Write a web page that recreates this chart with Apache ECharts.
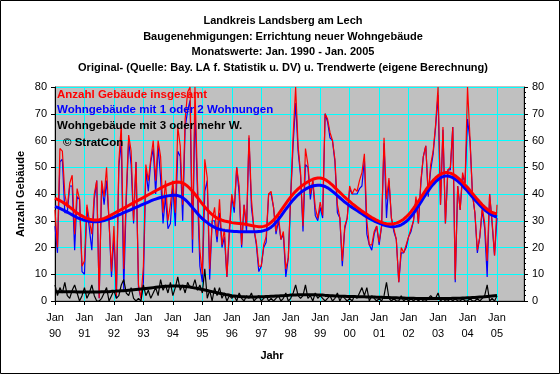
<!DOCTYPE html>
<html>
<head>
<meta charset="utf-8">
<script src="https://cdn.jsdelivr.net/npm/echarts@6/dist/echarts.min.js"></script>
<style>
html,body{margin:0;padding:0;background:#fff;}
#chart{width:560px;height:374px;}
</style>
</head>
<body>
<div id="chart"></div>
<script>
// Tick labels (years, Jan of each year)
const yearLabels = ['90','91','92','93','94','95','96','97','98','99','00','01','02','03','04','05'];

// Monthly values Jan 1990 - Jan 2005 (181 months)
const total = [
34, 20, 57, 56, 40, 35, 44, 47, 25, 42, 38, 13,
15, 36, 30, 25, 40, 45, 1, 45, 39, 50, 30, 11,
28, 2, 52, 66, 12, 40, 62, 56, 30, 52, 6, 1,
13, 51, 45, 53, 60, 45, 60, 54, 33, 45, 30, 36,
45, 33, 65, 58, 36, 68, 78, 80, 23, 80, 45, 19,
10, 53, 46, 12, 30, 35, 24, 38, 21, 27, 9, 27,
40, 35, 50, 43, 21, 36, 28, 62, 38, 27, 22, 13,
13, 21, 24, 40, 41, 35, 26, 32, 23, 26, 12, 16,
40, 62, 80, 58, 48, 28, 57, 51, 40, 45, 35, 31,
37, 32, 70, 68, 63, 60, 53, 36, 31, 15, 28, 31,
43, 40, 42, 41, 45, 48, 55, 30, 21, 21, 26, 28,
22, 28, 61, 38, 46, 31, 27, 23, 7, 20, 18, 21,
24, 27, 30, 39, 29, 45, 54, 58, 40, 51, 56, 66,
80, 36, 65, 29, 49, 50, 65, 8, 43, 34, 48, 44,
80, 61, 40, 33, 19, 24, 35, 29, 15, 40, 30, 17,
36];

const oneTwo = [
28, 18, 52, 53, 33, 33, 43, 43, 19, 39, 38, 11,
10, 35, 27, 19, 38, 45, 1, 44, 36, 45, 30, 9,
24, 1, 50, 60, 4, 37, 60, 51, 29, 52, 5, 1,
7, 49, 41, 52, 57, 40, 58, 46, 29, 39, 27, 29,
43, 28, 56, 54, 30, 65, 71, 75, 18, 72, 41, 13,
7, 41, 45, 8, 30, 30, 22, 33, 20, 24, 9, 25,
39, 33, 50, 40, 20, 36, 26, 61, 35, 27, 21, 11,
13, 20, 22, 40, 40, 35, 25, 30, 23, 25, 9, 16,
39, 59, 74, 56, 47, 26, 51, 50, 38, 45, 32, 30,
35, 31, 70, 67, 61, 60, 52, 33, 31, 13, 27, 31,
42, 40, 40, 40, 42, 43, 53, 25, 21, 19, 25, 28,
21, 28, 59, 31, 45, 31, 26, 23, 7, 18, 18, 20,
24, 26, 30, 38, 29, 44, 54, 58, 39, 49, 55, 65,
77, 36, 64, 29, 49, 49, 65, 7, 43, 34, 47, 44,
68, 60, 40, 33, 18, 24, 34, 27, 9, 40, 29, 17,
31];

const threePlus = [
6, 2, 5, 3, 7, 2, 1, 4, 6, 3, 0, 2,
5, 1, 3, 6, 2, 0, 0, 1, 3, 5, 0, 2,
4, 1, 2, 6, 8, 3, 2, 5, 1, 0, 1, 0,
6, 2, 4, 1, 3, 5, 2, 8, 4, 6, 3, 7,
2, 5, 9, 4, 6, 3, 7, 5, 5, 8, 4, 6,
3, 12, 1, 4, 0, 5, 2, 5, 1, 3, 0, 2,
1, 2, 0, 3, 1, 0, 2, 1, 3, 0, 1, 2,
0, 1, 2, 0, 1, 0, 1, 2, 0, 1, 3, 0,
1, 3, 6, 2, 1, 2, 6, 1, 2, 0, 3, 1,
2, 1, 0, 1, 2, 0, 1, 3, 0, 2, 1, 0,
1, 0, 2, 1, 3, 5, 2, 5, 0, 2, 1, 0,
1, 0, 2, 7, 1, 0, 1, 0, 0, 2, 0, 1,
0, 1, 0, 1, 0, 1, 0, 0, 1, 2, 1, 1,
3, 0, 1, 0, 0, 1, 0, 1, 0, 0, 1, 0,
0, 1, 0, 0, 1, 0, 1, 2, 6, 0, 1, 0,
2];

// Trend values
const trendTotal = [
38.4, 38.0, 37.5, 37.0, 36.4, 35.8, 35.1, 34.4, 33.6, 32.9, 32.3, 31.8,
31.3, 30.9, 30.6, 30.4, 30.3, 30.3, 30.4, 30.6, 30.9, 31.3, 31.7, 32.2,
32.7, 33.2, 33.7, 34.2, 34.7, 35.2, 35.7, 36.2, 36.7, 37.2, 37.7, 38.2,
38.7, 39.2, 39.7, 40.2, 40.7, 41.2, 41.7, 42.2, 42.7, 43.1, 43.5, 43.9,
44.2, 44.4, 44.5, 44.4, 44.1, 43.6, 42.9, 42.0, 41.0, 39.9, 38.7, 37.5,
36.3, 35.2, 34.1, 33.1, 32.3, 31.6, 31.0, 30.6, 30.2, 29.9, 29.7, 29.5,
29.3, 29.2, 29.1, 29.0, 28.9, 28.8, 28.6, 28.4, 28.2, 28.0, 27.9, 27.8,
27.8, 27.9, 28.2, 28.7, 29.4, 30.3, 31.3, 32.5, 33.8, 35.1, 36.4, 37.7,
38.9, 40.0, 41.0, 41.9, 42.7, 43.4, 44.0, 44.6, 45.1, 45.5, 45.8, 46.0,
46.0, 45.8, 45.4, 44.8, 44.1, 43.3, 42.4, 41.5, 40.6, 39.7, 38.8, 38.0,
37.2, 36.4, 35.7, 35.0, 34.3, 33.6, 33.0, 32.4, 31.8, 31.2, 30.7, 30.2,
29.8, 29.4, 29.1, 28.9, 28.8, 28.8, 28.9, 29.1, 29.5, 30.0, 30.6, 31.4,
32.3, 33.4, 34.6, 35.9, 37.3, 38.7, 40.1, 41.5, 42.8, 44.0, 45.1, 46.0,
46.8, 47.4, 47.8, 48.0, 48.0, 47.8, 47.4, 46.8, 46.1, 45.3, 44.4, 43.4,
42.4, 41.3, 40.2, 39.1, 38.0, 37.0, 36.0, 35.1, 34.3, 33.6, 33.1, 32.8,
32.6];

const trendOneTwo = [
35.3, 35.0, 34.6, 34.2, 33.7, 33.2, 32.7, 32.2, 31.7, 31.2, 30.8, 30.5,
30.2, 30.0, 29.8, 29.7, 29.6, 29.6, 29.7, 29.9, 30.1, 30.4, 30.7, 31.0,
31.4, 31.8, 32.2, 32.6, 33.0, 33.4, 33.8, 34.2, 34.6, 35.0, 35.4, 35.8,
36.2, 36.6, 37.0, 37.4, 37.8, 38.1, 38.4, 38.7, 38.9, 39.1, 39.3, 39.4,
39.5, 39.5, 39.4, 39.1, 38.6, 37.9, 37.0, 36.0, 34.9, 33.8, 32.7, 31.7,
30.8, 30.0, 29.3, 28.6, 28.0, 27.5, 27.1, 26.8, 26.6, 26.4, 26.3, 26.2,
26.1, 26.0, 26.0, 25.9, 25.9, 25.9, 25.9, 25.9, 25.9, 25.9, 25.9, 26.0,
26.1, 26.3, 26.6, 27.0, 27.6, 28.4, 29.4, 30.5, 31.7, 33.0, 34.3, 35.5,
36.7, 37.8, 38.8, 39.7, 40.5, 41.2, 41.8, 42.3, 42.7, 43.0, 43.2, 43.3,
43.3, 43.1, 42.8, 42.3, 41.7, 41.0, 40.2, 39.4, 38.6, 37.8, 37.0, 36.3,
35.6, 35.0, 34.4, 33.8, 33.2, 32.6, 32.0, 31.4, 30.9, 30.4, 29.9, 29.5,
29.1, 28.7, 28.4, 28.1, 27.9, 27.8, 27.8, 27.9, 28.1, 28.5, 29.0, 29.7,
30.5, 31.6, 32.8, 34.1, 35.5, 36.9, 38.4, 39.8, 41.2, 42.5, 43.6, 44.6,
45.4, 46.1, 46.5, 46.7, 46.7, 46.5, 46.1, 45.5, 44.8, 44.0, 43.1, 42.1,
41.1, 40.0, 38.9, 37.8, 36.8, 35.8, 34.9, 34.0, 33.3, 32.6, 32.1, 31.7,
31.4];

const trendThreePlus = [
3.5, 3.5, 3.5, 3.5, 3.5, 3.5, 3.5, 3.5, 3.5, 3.4, 3.4, 3.4,
3.4, 3.4, 3.4, 3.4, 3.4, 3.4, 3.4, 3.5, 3.5, 3.5, 3.5, 3.6,
3.6, 3.7, 3.7, 3.8, 3.8, 3.9, 4.0, 4.1, 4.2, 4.3, 4.4, 4.5,
4.6, 4.7, 4.8, 4.9, 5.0, 5.1, 5.2, 5.3, 5.4, 5.5, 5.5, 5.6,
5.6, 5.6, 5.6, 5.5, 5.5, 5.4, 5.3, 5.2, 5.0, 4.9, 4.7, 4.5,
4.3, 4.1, 3.9, 3.7, 3.5, 3.3, 3.1, 2.9, 2.7, 2.5, 2.3, 2.2,
2.0, 1.9, 1.8, 1.7, 1.6, 1.6, 1.5, 1.5, 1.5, 1.5, 1.5, 1.6,
1.6, 1.6, 1.7, 1.7, 1.8, 1.8, 1.9, 1.9, 2.0, 2.0, 2.1, 2.1,
2.2, 2.2, 2.2, 2.3, 2.3, 2.3, 2.3, 2.3, 2.3, 2.3, 2.3, 2.2,
2.2, 2.2, 2.1, 2.1, 2.0, 2.0, 1.9, 1.9, 1.8, 1.8, 1.8, 1.7,
1.7, 1.7, 1.7, 1.6, 1.6, 1.6, 1.6, 1.5, 1.5, 1.5, 1.5, 1.4,
1.4, 1.4, 1.3, 1.3, 1.3, 1.2, 1.2, 1.2, 1.1, 1.1, 1.1, 1.0,
1.0, 1.0, 1.0, 0.9, 0.9, 0.9, 0.9, 0.9, 0.9, 0.9, 0.9, 0.9,
0.9, 0.9, 0.9, 0.9, 0.9, 0.9, 1.0, 1.0, 1.0, 1.0, 1.1, 1.1,
1.2, 1.2, 1.3, 1.3, 1.4, 1.5, 1.5, 1.6, 1.7, 1.8, 1.9, 2.0,
2.1];

const titleLines = [
  'Landkreis Landsberg am Lech',
  'Baugenehmigungen: Errichtung neuer Wohngebäude',
  'Monatswerte: Jan. 1990 - Jan. 2005',
  'Original- (Quelle: Bay. LA f. Statistik u. DV) u. Trendwerte (eigene Berechnung)'
];
const seriesNames = ['Anzahl Gebäude insgesamt', 'Wohngebäude mit 1 oder 2 Wohnungen', 'Wohngebäude mit 3 oder mehr W.'];
const seriesColors = ['#ff0000', '#0000ff', '#000000'];

// category axis: 16 years of months (axis extends one year past the data)
const months = [];
for (let i = 0; i < yearLabels.length * 12; i++) {
  months.push(i % 12 === 0 ? 'Jan\n' + yearLabels[i / 12] : '');
}

const FONT = '"Liberation Sans", Arial, sans-serif';
const chart = echarts.init(document.getElementById('chart'), null, {renderer: 'canvas'});

function rawLine(name, data, color, z) {
  return {name: name, type: 'line', data: data, symbol: 'none', showSymbol: false,
    lineStyle: {color: color, width: 1.2}, itemStyle: {color: color}, silent: true, z: z};
}
function trendLine(name, data, color, z) {
  return {name: name, type: 'line', data: data, symbol: 'none', showSymbol: false,
    lineStyle: {color: color, width: 3}, itemStyle: {color: color}, silent: true, z: z};
}

const graphics = [
  {type: 'rect', shape: {x: 0.5, y: 0.5, width: 559, height: 373},
   style: {fill: 'none', stroke: '#000', lineWidth: 1}, silent: true, z: 100}
];
titleLines.forEach(function (t, k) {
  graphics.push({type: 'text', x: 283, y: 21 + k * 15.5, z: 100,
    style: {text: t, textAlign: 'center', textVerticalAlign: 'middle',
      font: 'bold 11px ' + FONT, fill: '#000'}});
});
seriesNames.forEach(function (t, k) {
  graphics.push({type: 'text', x: 57, y: 94.5 + k * 15.5, z: 100,
    style: {text: t, textAlign: 'left', textVerticalAlign: 'middle',
      font: 'bold 11.5px ' + FONT, fill: seriesColors[k]}});
});
graphics.push({type: 'text', x: 63, y: 143, z: 100,
  style: {text: '© StratCon', textAlign: 'left', textVerticalAlign: 'middle',
    font: 'bold 11.5px ' + FONT, fill: '#000'}});
graphics.push({type: 'text', x: 272, y: 356, z: 100,
  style: {text: 'Jahr', textAlign: 'center', textVerticalAlign: 'middle',
    font: 'bold 11px ' + FONT, fill: '#000'}});
graphics.push({type: 'text', x: 21, y: 194, rotation: Math.PI / 2, z: 100,
  style: {text: 'Anzahl Gebäude', textAlign: 'center', textVerticalAlign: 'middle',
    font: 'bold 11px ' + FONT, fill: '#000'}});

const everyYear = function (i) { return i % 12 === 0; };

const option = {
  animation: false,
  backgroundColor: '#ffffff',
  grid: {left: 55, top: 87, width: 469, height: 214, show: true,
    backgroundColor: '#c0c0c0', borderColor: '#808080', borderWidth: 1},
  xAxis: {
    type: 'category', data: months, boundaryGap: false,
    axisLine: {show: true, lineStyle: {color: '#000', width: 1}},
    axisTick: {show: true, interval: everyYear, length: 4, lineStyle: {color: '#000'}},
    axisLabel: {interval: everyYear, color: '#000', fontSize: 11, lineHeight: 16,
      margin: 9, fontFamily: FONT},
    splitLine: {show: true, interval: everyYear, lineStyle: {color: '#00ffff', width: 1}}
  },
  yAxis: [
    {type: 'value', min: 0, max: 80, interval: 10, position: 'left',
     axisLine: {show: true, lineStyle: {color: '#000'}},
     axisTick: {show: true, length: 4, lineStyle: {color: '#000'}},
     axisLabel: {color: '#000', fontSize: 11, margin: 8, fontFamily: FONT},
     splitLine: {show: true, lineStyle: {color: '#00ffff', width: 1}}},
    {type: 'value', min: 0, max: 80, interval: 10, position: 'right',
     axisLine: {show: true, lineStyle: {color: '#000'}},
     axisTick: {show: true, length: 4, lineStyle: {color: '#000'}},
     minorTick: {show: true, splitNumber: 5, length: 2, lineStyle: {color: '#000'}},
     axisLabel: {color: '#000', fontSize: 11, margin: 8, fontFamily: FONT},
     splitLine: {show: false}}
  ],
  series: [
    rawLine(seriesNames[1], oneTwo, seriesColors[1], 2),
    rawLine(seriesNames[0], total, seriesColors[0], 3),
    rawLine(seriesNames[2], threePlus, seriesColors[2], 4),
    trendLine('Trend ' + seriesNames[1], trendOneTwo, seriesColors[1], 5),
    trendLine('Trend ' + seriesNames[0], trendTotal, seriesColors[0], 6),
    trendLine('Trend ' + seriesNames[2], trendThreePlus, seriesColors[2], 7)
  ],
  graphic: graphics
};
chart.setOption(option);
</script>
</body>
</html>
